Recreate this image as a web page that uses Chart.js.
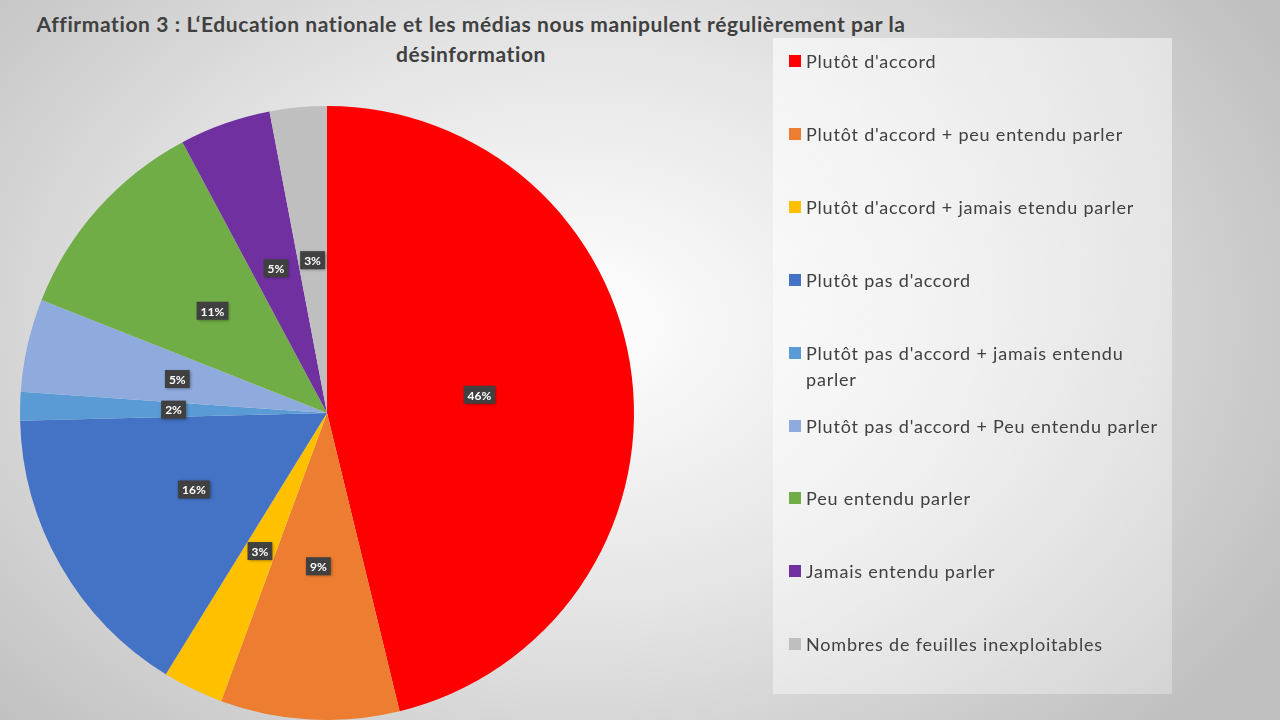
<!DOCTYPE html>
<html>
<head>
<meta charset="utf-8">
<script src="https://cdn.jsdelivr.net/npm/chart.js@4"></script>
<style>
    html, body { margin: 0; padding: 0; }
    body {
        width: 1280px; height: 720px; overflow: hidden; position: relative;
        background: radial-gradient(ellipse 800px 580px at 45% 45%, #ffffff 0%, #e4e4e4 50%, #c0c0c0 100%);
        font-family: Lato, "Open Sans", sans-serif;
    }
    #title {
        position: absolute; left: 0; top: 9px; width: 942px;
        text-align: center; font-weight: bold; font-size: 21px; line-height: 30px;
        letter-spacing: 0.6px; color: #404040;
    }
    #legend {
        position: absolute; left: 773px; top: 38px; width: 399px; height: 656px;
        background: linear-gradient(135deg, rgba(255,255,255,0.6), rgba(255,255,255,0.3));
    }
    .item { position: absolute; left: 16px; width: 380px; font-size: 18px; line-height: 26px; letter-spacing: 0.8px; color: #404040; }
    .sw { position: absolute; left: 0; top: 7px; width: 12px; height: 12px; }
    .txt { margin-left: 17px; width: 362px; }
</style>
</head>
<body>
<div id="title">Affirmation 3 : L‘Education nationale et les médias nous manipulent régulièrement par la<br>désinformation</div>
<canvas id="pie" width="1280" height="720" style="position:absolute;left:0;top:0;"></canvas>
<div id="legend"></div>
<script>
var labels = [
    "Plutôt d'accord",
    "Plutôt d'accord + peu entendu parler",
    "Plutôt d'accord + jamais etendu parler",
    "Plutôt pas d'accord",
    "Plutôt pas d'accord + jamais entendu parler",
    "Plutôt pas d'accord + Peu entendu parler",
    "Peu entendu parler",
    "Jamais entendu parler",
    "Nombres de feuilles inexploitables"
];
var values = [46.2, 9.4, 3.2, 15.8, 1.5, 4.9, 11.2, 4.8, 3.0];
var colors = ["#ff0000", "#ed7d31", "#ffc000", "#4472c4", "#5b9bd5", "#8faadc", "#70ad47", "#7030a0", "#bfbfbf"];

// légende en HTML
var legend = document.getElementById("legend");
labels.forEach(function(label, i) {
    var item = document.createElement("div");
    item.className = "item";
    item.style.top = (10 + i * 72.9) + "px";
    item.innerHTML = '<div class="sw" style="background:' + colors[i] + '"></div><div class="txt"></div>';
    item.querySelector(".txt").textContent = label;
    legend.appendChild(item);
});

// étiquettes de pourcentage
var pctLabels = {
    id: "pctLabels",
    afterDatasetsDraw: function(chart) {
        var ctx = chart.ctx;
        var meta = chart.getDatasetMeta(0);
        ctx.save();
        ctx.font = "bold 12px Lato, 'Open Sans', sans-serif";
        ctx.textAlign = "center";
        ctx.textBaseline = "middle";
        meta.data.forEach(function(arc, i) {
            var p = arc.getCenterPoint();
            var text = Math.round(values[i]) + "%";
            var w = ctx.measureText(text).width + 8;
            var h = 18;
            ctx.shadowColor = "rgba(0,0,0,0.4)";
            ctx.shadowBlur = 3;
            ctx.shadowOffsetX = 1;
            ctx.shadowOffsetY = 1;
            ctx.fillStyle = "#404040";
            ctx.fillRect(p.x - w / 2, p.y - h / 2, w, h);
            ctx.shadowColor = "transparent";
            ctx.fillStyle = "#ffffff";
            ctx.fillText(text, p.x, p.y + 1);
        });
        ctx.restore();
    }
};

var chart = new Chart(document.getElementById("pie").getContext("2d"), {
    type: "pie",
    data: {
        labels: labels,
        datasets: [{
            data: values,
            backgroundColor: colors,
            borderWidth: 0
        }]
    },
    options: {
        responsive: false,
        animation: false,
        layout: { padding: { left: 20, right: 646, top: 106, bottom: 0 } },
        plugins: {
            legend: { display: false },
            tooltip: { enabled: false },
            title: { display: false }
        }
    },
    plugins: [pctLabels]
});
</script>
</body>
</html>
